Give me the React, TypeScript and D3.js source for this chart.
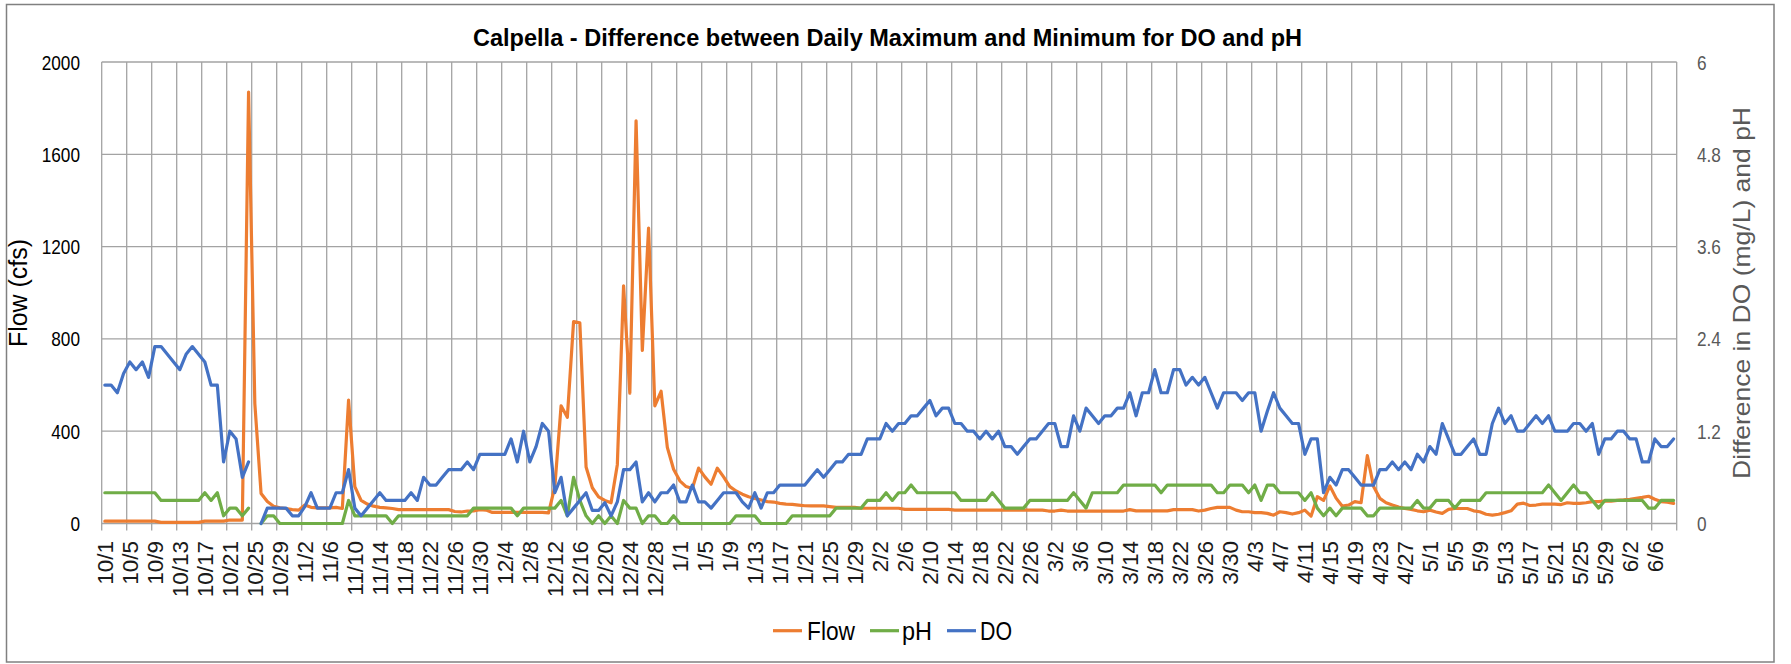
import React from 'react';
import * as d3 from 'd3';

const W = 1791;
const H = 664;

// Daily categories: 10/1 through 6/9 (252 days)
const startDay = new Date(Date.UTC(2018, 9, 1));
const endDay = new Date(Date.UTC(2019, 5, 10));
const categories: string[] = d3.utcDay.range(startDay, endDay).map(d => `${d.getUTCMonth() + 1}/${d.getUTCDate()}`);

const leftTicks = [0, 400, 800, 1200, 1600, 2000];
const rightTicks = [0, 1.2, 2.4, 3.6, 4.8, 6];

const flow: (number | null)[] = [
  10, 10, 10, 10, 10, 10, 10, 10, 10, 5,
  5, 5, 5, 5, 5, 5, 10, 10, 10, 10,
  15, 15, 15, 1870, 520, 130, 95, 75, 68, 65,
  60, 58, 80, 70, 68, 68, 68, 70, 65, 535,
  160, 100, 84, 75, 70, 68, 65, 60, 60, 60,
  60, 60, 60, 60, 60, 60, 52, 50, 54, 55,
  60, 58, 48, 48, 48, 48, 48, 48, 48, 48,
  48, 46, 160, 510, 460, 875, 870, 245, 155, 115,
  100, 90, 255, 1030, 565, 1745, 750, 1280, 510, 573,
  330, 235, 185, 160, 152, 240, 202, 170, 240, 202,
  160, 141, 127, 116, 109, 102, 95, 93, 87, 84,
  83, 80, 77, 76, 76, 76, 73, 70, 70, 70,
  70, 66, 66, 66, 66, 66, 66, 66, 61, 61,
  61, 61, 61, 61, 61, 61, 58, 58, 58, 58,
  58, 58, 58, 58, 58, 58, 58, 58, 58, 58,
  58, 54, 54, 58, 54, 54, 54, 54, 54, 54,
  54, 54, 54, 54, 60, 55, 55, 55, 55, 55,
  55, 60, 60, 60, 60, 54, 58, 65, 70, 70,
  70, 58, 51, 51, 47, 47, 44, 36, 51, 47,
  41, 47, 58, 32, 116, 100, 163, 110, 75, 80,
  95, 90, 294, 160, 109, 90, 80, 71, 65, 61,
  55, 51, 58, 50, 44, 61, 65, 65, 65, 55,
  51, 40, 36, 40, 47, 55, 84, 88, 78, 80,
  84, 84, 84, 82, 90, 87, 87, 90, 95, 95,
  97, 97, 100, 102, 105, 109, 113, 118, 105, 95,
  92, 87,
];

const ph: (number | null)[] = [
  0.4, 0.4, 0.4, 0.4, 0.4, 0.4, 0.4, 0.4, 0.4, 0.3,
  0.3, 0.3, 0.3, 0.3, 0.3, 0.3, 0.4, 0.3, 0.4, 0.1,
  0.2, 0.2, 0.1, 0.2, null, 0, 0.1, 0.1, 0, 0,
  0, 0, 0, 0, 0, 0, 0, 0, 0, 0.3,
  0.1, 0.1, 0.1, 0.1, 0.1, 0.1, 0, 0.1, 0.1, 0.1,
  0.1, 0.1, 0.1, 0.1, 0.1, 0.1, 0.1, 0.1, 0.1, 0.2,
  0.2, 0.2, 0.2, 0.2, 0.2, 0.2, 0.1, 0.2, 0.2, 0.2,
  0.2, 0.2, 0.2, 0.3, 0.1, 0.6, 0.3, 0.1, 0, 0.1,
  0, 0.1, 0, 0.3, 0.2, 0.2, 0, 0.1, 0.1, 0,
  0, 0.1, 0, 0, 0, 0, 0, 0, 0, 0,
  0, 0.1, 0.1, 0.1, 0.1, 0, 0, 0, 0, 0,
  0.1, 0.1, 0.1, 0.1, 0.1, 0.1, 0.1, 0.2, 0.2, 0.2,
  0.2, 0.2, 0.3, 0.3, 0.3, 0.4, 0.3, 0.4, 0.4, 0.5,
  0.4, 0.4, 0.4, 0.4, 0.4, 0.4, 0.4, 0.3, 0.3, 0.3,
  0.3, 0.3, 0.4, 0.3, 0.2, 0.2, 0.2, 0.2, 0.3, 0.3,
  0.3, 0.3, 0.3, 0.3, 0.3, 0.4, 0.3, 0.2, 0.4, 0.4,
  0.4, 0.4, 0.4, 0.5, 0.5, 0.5, 0.5, 0.5, 0.5, 0.4,
  0.5, 0.5, 0.5, 0.5, 0.5, 0.5, 0.5, 0.5, 0.4, 0.4,
  0.5, 0.5, 0.5, 0.4, 0.5, 0.3, 0.5, 0.5, 0.4, 0.4,
  0.4, 0.4, 0.3, 0.4, 0.2, 0.1, 0.2, 0.1, 0.2, 0.2,
  0.2, 0.2, 0.1, 0.1, 0.2, 0.2, 0.2, 0.2, 0.2, 0.2,
  0.3, 0.2, 0.2, 0.3, 0.3, 0.3, 0.2, 0.3, 0.3, 0.3,
  0.3, 0.4, 0.4, 0.4, 0.4, 0.4, 0.4, 0.4, 0.4, 0.4,
  0.4, 0.5, 0.4, 0.3, 0.4, 0.5, 0.4, 0.4, 0.3, 0.2,
  0.3, 0.3, 0.3, 0.3, 0.3, 0.3, 0.3, 0.2, 0.2, 0.3,
  0.3, 0.3,
];

const dO: (number | null)[] = [
  1.8, 1.8, 1.7, 1.95, 2.1, 2.0, 2.1, 1.9, 2.3, 2.3,
  2.2, 2.1, 2.0, 2.2, 2.3, 2.2, 2.1, 1.8, 1.8, 0.8,
  1.2, 1.1, 0.6, 0.8, null, 0, 0.2, 0.2, 0.2, 0.2,
  0.1, 0.1, 0.22, 0.4, 0.2, 0.2, 0.2, 0.4, 0.4, 0.7,
  0.2, 0.1, 0.2, 0.3, 0.4, 0.3, 0.3, 0.3, 0.3, 0.4,
  0.3, 0.6, 0.5, 0.5, 0.6, 0.7, 0.7, 0.7, 0.8, 0.7,
  0.9, 0.9, 0.9, 0.9, 0.9, 1.1, 0.8, 1.2, 0.8, 1.0,
  1.3, 1.2, 0.4, 0.6, 0.1, 0.2, 0.3, 0.4, 0.17, 0.17,
  0.27, 0.1, 0.28, 0.7, 0.7, 0.8, 0.28, 0.4, 0.28, 0.4,
  0.4, 0.5, 0.28, 0.28, 0.5, 0.28, 0.28, 0.2, 0.3, 0.4,
  0.4, 0.4, 0.28, 0.2, 0.4, 0.2, 0.4, 0.4, 0.5, 0.5,
  0.5, 0.5, 0.5, 0.6, 0.7, 0.6, 0.7, 0.8, 0.8, 0.9,
  0.9, 0.9, 1.1, 1.1, 1.1, 1.3, 1.2, 1.3, 1.3, 1.4,
  1.4, 1.5, 1.6, 1.4, 1.5, 1.5, 1.3, 1.3, 1.2, 1.2,
  1.1, 1.2, 1.1, 1.2, 1.0, 1.0, 0.9, 1.0, 1.1, 1.1,
  1.2, 1.3, 1.3, 1.0, 1.0, 1.4, 1.2, 1.5, 1.4, 1.3,
  1.4, 1.4, 1.5, 1.5, 1.7, 1.4, 1.7, 1.7, 2.0, 1.7,
  1.7, 2.0, 2.0, 1.8, 1.9, 1.8, 1.9, 1.7, 1.5, 1.7,
  1.7, 1.7, 1.6, 1.7, 1.7, 1.2, 1.46, 1.7, 1.5, 1.4,
  1.3, 1.3, 0.9, 1.1, 1.1, 0.4, 0.6, 0.5, 0.7, 0.7,
  0.6, 0.5, 0.5, 0.5, 0.7, 0.7, 0.8, 0.7, 0.8, 0.7,
  0.9, 0.8, 1.0, 0.9, 1.3, 1.1, 0.9, 0.9, 1.0, 1.1,
  0.9, 0.9, 1.3, 1.5, 1.3, 1.4, 1.2, 1.2, 1.3, 1.4,
  1.3, 1.4, 1.2, 1.2, 1.2, 1.3, 1.3, 1.2, 1.3, 0.9,
  1.1, 1.1, 1.2, 1.2, 1.1, 1.1, 0.8, 0.8, 1.1, 1.0,
  1.0, 1.1,
];

const seriesNames = ['Flow', 'pH', 'DO'];
const seriesColors = ['#ED7D31', '#70AD47', '#4472C4'];

const title = 'Calpella - Difference between Daily Maximum and Minimum for DO and pH';
const leftTitle = 'Flow (cfs)';
const rightTitle = 'Difference in DO (mg/L) and pH';

const FONT = '"Liberation Sans", Arial, sans-serif';

export default function App() {
  const plot = { left: 101.7, right: 1676.7, top: 62, bottom: 523.5 };
  const idx = categories.map((_, i) => i);
  const x = d3.scaleBand<number>().domain(idx).range([plot.left, plot.right]).padding(0);
  const bw = x.bandwidth();
  const cx = (i: number) => (x(i) as number) + bw / 2;
  const yL = d3.scaleLinear().domain([0, 2000]).range([plot.bottom, plot.top]);
  const yR = d3.scaleLinear().domain([0, 6]).range([plot.bottom, plot.top]);

  const mkLine = (scale: d3.ScaleLinear<number, number>) =>
    d3.line<number | null>()
      .defined(d => d !== null && d !== undefined)
      .x((_, i) => cx(i))
      .y(d => scale(d as number));

  const flowPath = mkLine(yL)(flow) || '';
  const phPath = mkLine(yR)(ph) || '';
  const doPath = mkLine(yR)(dO) || '';

  // vertical gridlines every 4 categories (category boundaries)
  const vGrid: number[] = [];
  for (let i = 0; i <= categories.length; i += 4) {
    vGrid.push(i < categories.length ? (x(i) as number) : plot.right);
  }
  const labelIdx = idx.filter(i => i % 4 === 0);

  const gridColor = '#a3a3a3';

  const legendItems = [
    { name: seriesNames[0], color: seriesColors[0], lx: 773, tx: 807, tl: 48 },
    { name: seriesNames[1], color: seriesColors[1], lx: 870, tx: 902, tl: 30 },
    { name: seriesNames[2], color: seriesColors[2], lx: 947, tx: 980, tl: 32 },
  ];

  return (
    <svg width={W} height={H} style={{ position: 'absolute', left: 0, top: 0, background: '#fff' }} fontFamily={FONT}>
      <rect x={0} y={0} width={W} height={H} fill="#fff" />
      <rect x={6.5} y={4.5} width={1767.5} height={657.5} fill="#fff" stroke="#808080" strokeWidth={1.5} />

      {/* title */}
      <text x={887.5} y={45.5} textAnchor="middle" fontSize={23.5} fontWeight="bold" fill="#000"
        textLength={829} lengthAdjust="spacingAndGlyphs">{title}</text>

      {/* horizontal gridlines */}
      {leftTicks.map(t => (
        <line key={'h' + t} x1={plot.left} x2={plot.right} y1={yL(t)} y2={yL(t)} stroke={gridColor} strokeWidth={1.3} />
      ))}
      {/* vertical gridlines with tick extension */}
      {vGrid.map((gx, k) => (
        <line key={'v' + k} x1={gx} x2={gx} y1={plot.top} y2={plot.bottom + 7} stroke={gridColor} strokeWidth={1.3} />
      ))}

      {/* series */}
      <path d={flowPath} fill="none" stroke={seriesColors[0]} strokeWidth={3.2} strokeLinejoin="round" strokeLinecap="round" />
      <path d={phPath} fill="none" stroke={seriesColors[1]} strokeWidth={3.2} strokeLinejoin="round" strokeLinecap="round" />
      <path d={doPath} fill="none" stroke={seriesColors[2]} strokeWidth={3.2} strokeLinejoin="round" strokeLinecap="round" />

      {/* left tick labels */}
      {leftTicks.map(t => (
        <text key={'l' + t} transform={`translate(80,${yL(t)}) scale(0.82,1)`} dy="0.36em" textAnchor="end"
          fontSize={21} fill="#000">{t}</text>
      ))}
      {/* right tick labels */}
      {rightTicks.map(t => (
        <text key={'r' + t} transform={`translate(1697,${yR(t)}) scale(0.82,1)`} dy="0.36em" textAnchor="start"
          fontSize={21} fill="#595959">{t}</text>
      ))}

      {/* x tick labels */}
      {labelIdx.map(i => (
        <text key={'x' + i} transform={`translate(${cx(i) + 8},541) rotate(-90)`} textAnchor="end"
          fontSize={22.5} fill="#1a1a1a">{categories[i]}</text>
      ))}

      {/* axis titles */}
      <text transform={`translate(27,293) rotate(-90)`} textAnchor="middle" fontSize={25} fill="#000"
        textLength={108} lengthAdjust="spacingAndGlyphs">{leftTitle}</text>
      <text transform={`translate(1750,293) rotate(-90)`} textAnchor="middle" fontSize={24} fill="#595959"
        textLength={372} lengthAdjust="spacingAndGlyphs">{rightTitle}</text>

      {/* legend */}
      {legendItems.map(it => (
        <g key={it.name}>
          <line x1={it.lx} x2={it.lx + 29} y1={630.7} y2={630.7} stroke={it.color} strokeWidth={3.2} />
          <text x={it.tx} y={640} fontSize={26} fill="#000" textLength={it.tl} lengthAdjust="spacingAndGlyphs">{it.name}</text>
        </g>
      ))}
    </svg>
  );
}
